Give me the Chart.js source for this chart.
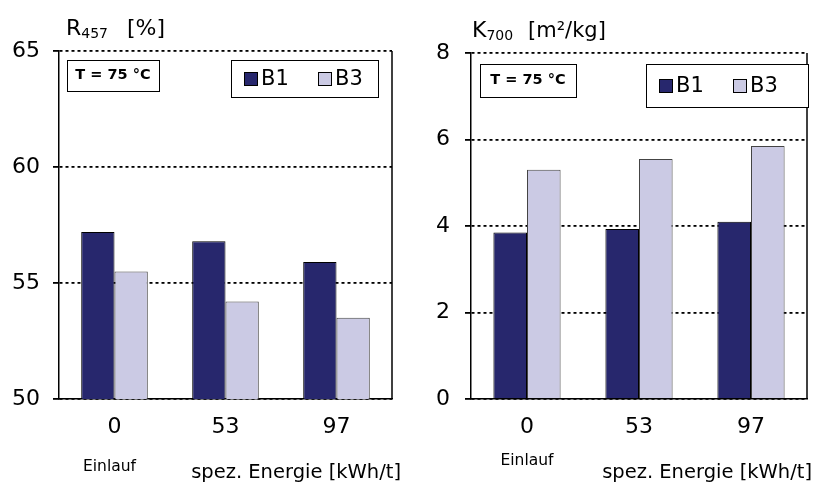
<!DOCTYPE html>
<html>
<head>
<meta charset="utf-8">
<script src="https://cdn.jsdelivr.net/npm/chart.js@4.4.0/dist/chart.umd.min.js"></script>
<style>
  html, body { margin: 0; padding: 0; background: #fff; }
  #wrap { position: relative; width: 814px; height: 482px; }
  .pane { position: absolute; top: 0; width: 407px; height: 482px; }
</style>
</head>
<body>
<div id="wrap">
  <div class="pane" style="left:0"><canvas id="chartR"></canvas></div>
  <div class="pane" style="left:407px"><canvas id="chartK"></canvas></div>
</div>
<script>
// Werte
const categories = ['0', '53', '97'];
const subLabels = ['Einlauf', '', ''];
const seriesNames = ['B1', 'B3'];
const r457B1 = [57.2, 56.8, 55.9];
const r457B3 = [55.5, 54.2, 53.5];
const k700B1 = [3.85, 3.93, 4.1];
const k700B3 = [5.3, 5.55, 5.85];
const r457Ticks = [50, 55, 60, 65];
const k700Ticks = [0, 2, 4, 6, 8];

const FONT = '"DejaVu Sans", sans-serif';
const colorB1 = '#27276d';
const colorB3 = '#cbcae4';

// Rahmen, Titel, Textbox, Legende und Achsentitel
const decorPlugin = {
  id: 'decor',
  afterDraw(chart, args, opts) {
    const ctx = chart.ctx;
    const a = chart.chartArea;
    ctx.save();

    ctx.strokeStyle = '#000';
    ctx.lineWidth = 1.5;
    ctx.beginPath();
    ctx.moveTo(a.right, a.top);
    ctx.lineTo(a.right, a.bottom);
    ctx.stroke();

    // Titel mit Index
    ctx.fillStyle = '#000';
    ctx.textBaseline = 'alphabetic';
    ctx.textAlign = 'left';
    let x = opts.titleX;
    ctx.font = '22px ' + FONT;
    ctx.fillText(opts.title[0], x, opts.titleY);
    x += ctx.measureText(opts.title[0]).width;
    ctx.font = '14px ' + FONT;
    ctx.fillText(opts.title[1], x, opts.titleY + 3);
    ctx.font = opts.unitSize + 'px ' + FONT;
    ctx.fillText(opts.title[2], opts.unitX, opts.titleY);

    // T-Box
    const t = opts.tBox;
    ctx.fillStyle = '#fff';
    ctx.fillRect(t.x, t.y, t.w, t.h);
    ctx.lineWidth = 1;
    ctx.strokeRect(t.x + 0.5, t.y + 0.5, t.w, t.h);
    ctx.fillStyle = '#000';
    ctx.font = 'bold 14.5px ' + FONT;
    ctx.textAlign = 'center';
    ctx.textBaseline = 'middle';
    ctx.fillText('T = 75 \u00b0C', t.x + t.w / 2, t.y + t.h / 2);

    // Legende
    const l = opts.legendBox;
    ctx.fillStyle = '#fff';
    ctx.fillRect(l.x, l.y, l.w, l.h);
    ctx.strokeRect(l.x + 0.5, l.y + 0.5, l.w, l.h);
    ctx.font = '21px ' + FONT;
    ctx.textAlign = 'left';
    chart.data.datasets.forEach((ds, i) => {
      const sx = l.x + l.items[i];
      const sy = l.y + l.h / 2 - 6.5;
      ctx.fillStyle = ds.backgroundColor;
      ctx.fillRect(sx, sy, 13, 13);
      ctx.strokeStyle = '#000';
      ctx.strokeRect(sx + 0.5, sy + 0.5, 13, 13);
      ctx.fillStyle = '#000';
      ctx.fillText(ds.label, sx + 17, l.y + l.h / 2 + 1);
    });

    // Unterbeschriftung und Achsentitel
    const xs = chart.scales.x;
    ctx.font = '15.5px ' + FONT;
    ctx.textAlign = 'center';
    ctx.textBaseline = 'alphabetic';
    subLabels.forEach((s, i) => {
      if (s) ctx.fillText(s, xs.getPixelForValue(i) + opts.subDx, opts.subY);
    });
    ctx.font = '19.5px ' + FONT;
    ctx.textAlign = 'right';
    ctx.fillText('spez. Energie [kWh/t]', opts.axisTitleRight, opts.axisTitleY);
    ctx.restore();
  }
};

function makeChart(id, b1, b3, ticks, cfg) {
  return new Chart(document.getElementById(id), {
    type: 'bar',
    data: {
      labels: categories,
      datasets: [
        { label: seriesNames[0], data: b1, backgroundColor: colorB1, borderColor: '#000', borderWidth: 1 },
        { label: seriesNames[1], data: b3, backgroundColor: colorB3, borderColor: '#444', borderWidth: 1 }
      ]
    },
    options: {
      responsive: true,
      maintainAspectRatio: false,
      animation: false,
      layout: { padding: { left: 0, right: cfg.padRight, top: cfg.padTop, bottom: 0 } },
      datasets: { bar: { categoryPercentage: 0.6, barPercentage: 1.0 } },
      plugins: {
        legend: { display: false },
        tooltip: { enabled: false },
        decor: cfg.decor
      },
      scales: {
        x: {
          grid: { drawOnChartArea: false, drawTicks: false },
          border: { display: true, color: '#000', width: 1.5 },
          ticks: { color: '#000', padding: 15, font: { family: FONT, size: 22 } },
          afterFit: (s) => { s.height = cfg.xAxisH; }
        },
        y: {
          min: ticks[0],
          max: ticks[ticks.length - 1],
          ticks: { stepSize: ticks[1] - ticks[0], color: '#000', padding: cfg.tickPad, font: { family: FONT, size: 22 } },
          grid: { color: '#000', lineWidth: 1.8, tickLength: 6 },
          border: { display: true, color: '#000', width: 1.5, dash: [3, 3] },
          afterFit: (s) => { s.width = cfg.axisW; }
        }
      }
    },
    plugins: [decorPlugin]
  });
}

makeChart('chartR', r457B1, r457B3, r457Ticks, {
  axisW: 59, padRight: 15, padTop: 51, xAxisH: 83, tickPad: 13,
  decor: {
    title: ['R', '457', '[%]'], titleX: 66, titleY: 35, unitX: 127, unitSize: 22,
    tBox: { x: 67, y: 60, w: 92, h: 31 },
    legendBox: { x: 231, y: 60, w: 147, h: 37, items: [13, 87] },
    subY: 471, subDx: -5, axisTitleRight: 401, axisTitleY: 478
  }
});

makeChart('chartK', k700B1, k700B3, k700Ticks, {
  axisW: 64, padRight: 7, padTop: 53, xAxisH: 83, tickPad: 15,
  decor: {
    title: ['K', '700', '[m\u00b2/kg]'], titleX: 65, titleY: 37, unitX: 121, unitSize: 21,
    tBox: { x: 73, y: 64, w: 96, h: 33 },
    legendBox: { x: 239, y: 64, w: 162, h: 43, items: [13, 87] },
    subY: 465, subDx: 0, axisTitleRight: 405, axisTitleY: 478
  }
});
</script>
</body>
</html>
